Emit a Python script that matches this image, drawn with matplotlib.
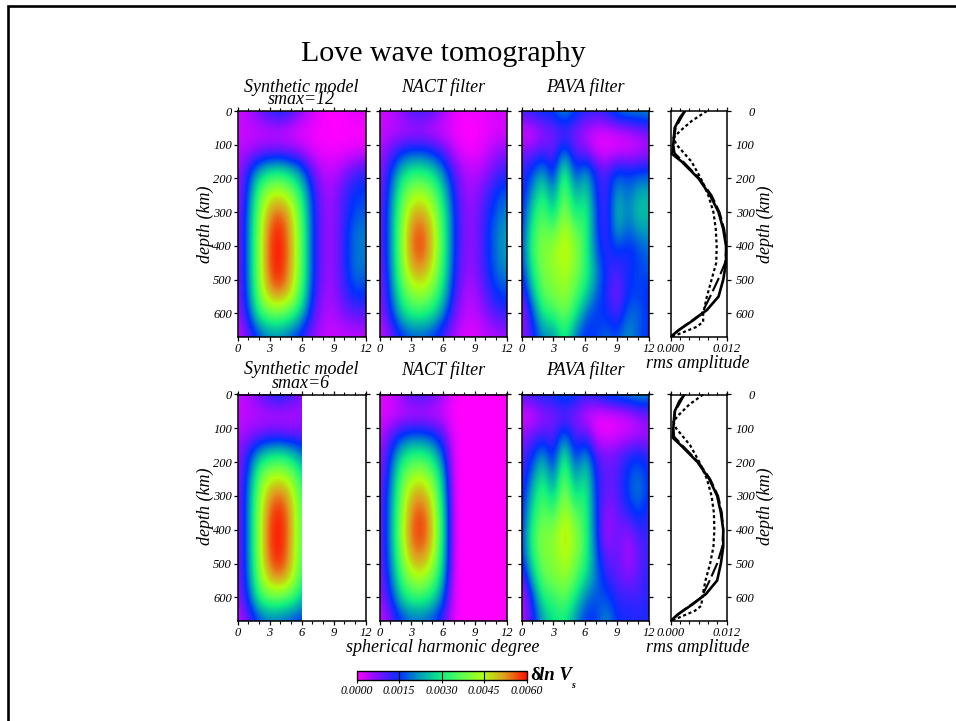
import numpy as np
import matplotlib
matplotlib.use('Agg')
import matplotlib.pyplot as plt
from matplotlib.colors import LinearSegmentedColormap, Normalize
from matplotlib.cm import ScalarMappable
from matplotlib.lines import Line2D
from matplotlib.patches import Rectangle
from matplotlib.ticker import MultipleLocator

plt.rcParams['font.family'] = ['Liberation Serif', 'DejaVu Serif']

W, H = 956, 721

# model grids: rows are depth (60 km steps), columns are degree 0-12, units 1e-4
grid_depths = [0, 60, 120, 180, 240, 300, 360, 420, 480, 540, 600, 660]

syn12 = [
    [3, 5, 9, 13, 15, 12, 7, 3, 1, 0, 1, 2, 2],
    [3, 3, 3, 3, 3, 2, 1, 1, 0, 0, 0, 0, 0],
    [4, 5, 7, 8, 8, 7, 5, 2, 1, 1, 1, 2, 2],
    [5, 14, 24, 29, 30, 26, 20, 9, 4, 4, 7, 11, 12],
    [5, 17, 36, 44, 45, 40, 29, 14, 6, 6, 11, 15, 16],
    [6, 19, 40, 53, 56, 49, 34, 15, 7, 6, 12, 17, 18],
    [6, 20, 42, 57, 60, 51, 36, 15, 7, 6, 13, 20, 20],
    [6, 20, 42, 58, 60, 52, 36, 15, 7, 6, 13, 20, 20],
    [6, 20, 42, 57, 60, 51, 36, 15, 7, 6, 13, 20, 19],
    [6, 19, 40, 52, 55, 48, 33, 14, 6, 6, 11, 16, 15],
    [5, 16, 32, 38, 38, 34, 25, 11, 5, 5, 8, 10, 10],
    [3, 9, 17, 21, 21, 18, 13, 7, 4, 3, 4, 4, 4],
]
nact12 = [
    [3, 4, 7, 11, 12, 10, 6, 2, 1, 1, 2, 3, 3],
    [3, 4, 4, 4, 4, 3, 2, 1, 0, 0, 1, 2, 2],
    [5, 9, 14, 16, 16, 14, 10, 4, 1, 1, 3, 6, 7],
    [6, 15, 26, 31, 31, 28, 20, 10, 5, 4, 6, 10, 12],
    [7, 18, 34, 42, 43, 38, 27, 13, 6, 6, 10, 15, 18],
    [7, 20, 38, 50, 52, 45, 31, 15, 7, 7, 12, 18, 21],
    [7, 20, 40, 55, 57, 49, 33, 15, 7, 7, 13, 20, 23],
    [7, 20, 40, 55, 57, 49, 33, 15, 7, 7, 13, 20, 23],
    [6, 19, 38, 50, 52, 45, 31, 14, 6, 7, 12, 19, 21],
    [6, 17, 33, 41, 43, 38, 27, 12, 5, 5, 10, 15, 17],
    [5, 14, 26, 32, 32, 29, 20, 9, 4, 4, 7, 11, 12],
    [3, 8, 15, 18, 18, 16, 11, 5, 2, 2, 4, 5, 6],
]
pava12 = [
    [12, 14, 16, 16, 24, 16, 14, 13, 14, 20, 22, 22, 23],
    [1, 2, 6, 8, 9, 8, 4, 2, 2, 3, 4, 6, 8],
    [8, 8, 11, 8, 20, 9, 8, 2, 1, 2, 2, 3, 5],
    [12, 16, 24, 10, 36, 13, 24, 13, 10, 17, 15, 16, 16],
    [12, 22, 32, 18, 41, 21, 30, 14, 10, 24, 18, 24, 24],
    [13, 28, 37, 25, 44, 28, 34, 16, 9, 27, 19, 27, 25],
    [14, 33, 40, 36, 47, 38, 34, 16, 10, 24, 17, 22, 22],
    [15, 34, 41, 42, 48, 42, 33, 18, 12, 15, 13, 16, 19],
    [13, 30, 40, 41, 45, 40, 33, 22, 13, 10, 14, 17, 17],
    [8, 24, 38, 39, 43, 37, 28, 19, 13, 7, 15, 16, 14],
    [4, 16, 31, 33, 39, 31, 19, 15, 15, 9, 19, 19, 14],
    [6, 12, 22, 21, 33, 20, 14, 16, 19, 16, 23, 17, 15],
]
syn6 = [
    [3, 5, 9, 13, 15, 12, 8],
    [3, 4, 4, 4, 4, 4, 5],
    [5, 6, 8, 9, 9, 8, 9],
    [6, 14, 24, 29, 30, 27, 20],
    [6, 17, 37, 44, 45, 41, 30],
    [6, 20, 41, 53, 56, 49, 34],
    [6, 20, 43, 57, 60, 52, 35],
    [6, 20, 43, 58, 60, 52, 35],
    [6, 20, 43, 57, 60, 51, 35],
    [6, 19, 40, 52, 55, 48, 33],
    [6, 16, 33, 38, 38, 35, 26],
    [3, 9, 17, 20, 19, 17, 15],
]
nact6 = [
    [2, 3, 7, 11, 12, 10, 6, 1, 0, 0, 0, 0, 0],
    [2, 2, 3, 3, 3, 3, 2, 0, 0, 0, 0, 0, 0],
    [4, 9, 15, 17, 17, 15, 10, 1, 0, 0, 0, 0, 0],
    [5, 15, 27, 32, 32, 28, 17, 1, 0, 0, 0, 0, 0],
    [6, 18, 35, 43, 44, 38, 23, 1, 0, 0, 0, 0, 0],
    [7, 20, 39, 51, 53, 45, 26, 1, 0, 0, 0, 0, 0],
    [7, 21, 41, 55, 58, 49, 28, 1, 0, 0, 0, 0, 0],
    [7, 21, 42, 56, 58, 50, 28, 1, 0, 0, 0, 0, 0],
    [7, 20, 39, 52, 54, 46, 27, 1, 0, 0, 0, 0, 0],
    [6, 18, 34, 43, 45, 38, 24, 1, 0, 0, 0, 0, 0],
    [5, 14, 27, 33, 33, 29, 18, 1, 0, 0, 0, 0, 0],
    [3, 8, 16, 19, 19, 17, 11, 1, 0, 0, 0, 0, 0],
]
pava6 = [
    [11, 13, 15, 15, 20, 16, 13, 15, 18, 20, 22, 24, 22],
    [1, 2, 6, 7, 8, 7, 3, 1, 1, 2, 3, 6, 8],
    [6, 9, 11, 9, 20, 9, 11, 2, 1, 2, 3, 4, 5],
    [10, 14, 24, 10, 34, 12, 24, 10, 8, 9, 13, 15, 12],
    [10, 20, 31, 16, 41, 19, 31, 13, 9, 10, 16, 20, 14],
    [12, 26, 36, 24, 44, 27, 34, 14, 8, 10, 16, 21, 14],
    [13, 30, 39, 34, 47, 37, 34, 15, 5, 9, 11, 16, 12],
    [14, 34, 41, 40, 49, 42, 34, 16, 4, 10, 5, 11, 12],
    [14, 31, 41, 40, 46, 41, 33, 18, 8, 10, 4, 9, 12],
    [7, 25, 38, 39, 43, 37, 28, 20, 12, 10, 7, 10, 13],
    [2, 15, 32, 33, 38, 30, 20, 17, 17, 12, 12, 11, 13],
    [4, 12, 24, 29, 31, 22, 15, 15, 23, 14, 14, 13, 14],
]

# rms profiles, upper row
rms_solid_depth = [0, 20, 50, 80, 100, 128, 150, 200, 250, 300, 350, 400, 450, 500, 550, 590, 620, 650, 670]
rms_solid_top = [.0031, .0020, .0009, .0007, .0006, .0004, .0024, .0060, .0085, .0103, .0113, .0119, .0119, .0113, .0103, .0078, .0049, .0017, 0]
rms_dash_depth = [0, 50, 100, 125, 150, 200, 250, 300, 350, 400, 450, 500, 550, 600, 640, 670]
rms_dash_top = [.0031, .0011, .0006, .0009, .0027, .0062, .0088, .0105, .0115, .0120, .0117, .0102, .0085, .0067, .0027, 0]
rms_dot_depth = [0, 30, 60, 80, 100, 150, 200, 250, 300, 350, 400, 450, 500, 550, 600, 625, 640, 660, 670]
rms_dot_top = [.0078, .0045, .0020, .0006, .0013, .0045, .0065, .0081, .0092, .0097, .0099, .0098, .0088, .0078, .0070, .0070, .0056, .0020, 0]

# rms profiles, lower row
rms_solid_low = [.0030, .0019, .0009, .0007, .0006, .0005, .0022, .0058, .0083, .0100, .0108, .0113, .0113, .0108, .0100, .0076, .0048, .0016, 0]
rms_dash_low = [.0030, .0010, .0006, .0008, .0025, .0060, .0085, .0102, .0110, .0113, .0111, .0100, .0084, .0066, .0026, 0]
rms_dot_low = [.0070, .0040, .0018, .0006, .0012, .0042, .0062, .0078, .0088, .0093, .0094, .0092, .0085, .0075, .0068, .0066, .0052, .0018, 0]

cbar_ticks = [0.0, 0.0015, 0.0030, 0.0045, 0.0060]
cbar_labels = ['0.0000', '0.0015', '0.0030', '0.0045', '0.0060']
degree_ticks = [0, 3, 6, 9, 12]
depth_ticks = [0, 100, 200, 300, 400, 500, 600]

cmap = LinearSegmentedColormap.from_list(
    'hue', ['#ff00ff', '#8010ff', '#0030ff', '#00a0b8', '#10f080',
            '#60ff50', '#b0ff10', '#e09a20', '#ff1000'], N=256)
norm = Normalize(0, 60)

fig = plt.figure(figsize=(W / 100, H / 100), dpi=100)
fig.patch.set_facecolor('white')


def px_axes(l, t, r, b):
    return fig.add_axes([l / W, 1 - b / H, (r - l) / W, (b - t) / H])


def txt(x, y, s, size, **kw):
    kw.setdefault('style', 'italic')
    kw.setdefault('ha', 'center')
    kw.setdefault('va', 'center')
    fig.text(x / W, 1 - y / H, s, fontsize=size, **kw)


def style_axes(ax, left_labels):
    ax.set_ylim(670, 0)
    ax.yaxis.set_ticks(depth_ticks)
    ax.tick_params(axis='both', which='major', direction='out', length=3, width=0.9,
                   top=True, right=True, labelsize=9, pad=1)
    ax.tick_params(axis='x', which='minor', direction='out', length=2, width=0.8, top=True)
    if not left_labels:
        ax.set_yticklabels([])
    else:
        for t in ax.get_yticklabels():
            t.set_style('italic')
    for s in ax.spines.values():
        s.set_linewidth(1.1)


def draw_map(ax, grid, clip_deg=None, left_labels=False):
    arr = np.array(grid, dtype=float)
    n = arr.shape[1]
    im = ax.imshow(arr, cmap=cmap, norm=norm, interpolation='bicubic', aspect='auto',
                   extent=[-0.5, n - 0.5, 690, -30], origin='upper')
    if clip_deg is not None:
        im.set_clip_path(Rectangle((0, 0), clip_deg, 670, transform=ax.transData))
    ax.set_xlim(0, 12)
    ax.set_xticks(degree_ticks)
    ax.xaxis.set_minor_locator(MultipleLocator(1))
    style_axes(ax, left_labels)
    for t in ax.get_xticklabels():
        t.set_style('italic')


def draw_rms(ax, solid, dash, dot):
    ax.plot(solid, rms_solid_depth, color='k', lw=1.9)
    ax.plot(dash, rms_dash_depth, color='k', lw=1.5, dashes=(7, 2))
    ax.plot(dot, rms_dot_depth, color='k', lw=1.6, dashes=(1.4, 1.2))
    ax.set_xlim(0, 0.012)
    ax.set_xticks([0, 0.012])
    ax.set_xticklabels(['0.000', '0.012'])
    ax.xaxis.set_minor_locator(MultipleLocator(0.002))
    style_axes(ax, False)
    ax.set_yticklabels([str(d) for d in depth_ticks])
    ax.yaxis.tick_right()
    ax.tick_params(axis='y', which='major', left=True, right=True, labelleft=False,
                   labelright=True, pad=17)
    for t in ax.get_yticklabels():
        t.set_style('italic')
        t.set_ha('right')
    for t in ax.get_xticklabels():
        t.set_style('italic')


rows = [(111, 337, syn12, nact12, pava12, rms_solid_top, rms_dash_top, rms_dot_top, None),
        (394.5, 621, syn6, nact6, pava6, rms_solid_low, rms_dash_low, rms_dot_low, 6)]
for top, bot, g1, g2, g3, r1, r2, r3, clip in rows:
    draw_map(px_axes(237.5, top, 365.5, bot), g1, clip_deg=clip, left_labels=True)
    draw_map(px_axes(379.5, top, 506.5, bot), g2)
    draw_map(px_axes(521.5, top, 648.5, bot), g3)
    draw_rms(px_axes(670.5, top, 726.5, bot), r1, r2, r3)

# titles
txt(443, 54, 'Love wave tomography', 21.6, style='normal')
for y in (87, 370):
    txt(301, y, 'Synthetic model', 13)
    txt(443, y, 'NACT filter', 13)
    txt(585, y, 'PAVA filter', 13)
txt(301, 100, 'smax=12', 13)
txt(301, 383, 'smax=6', 13)
for y in (224, 506):
    txt(205, y, 'depth (km)', 13, rotation=90)
    txt(765, y, 'depth (km)', 13, rotation=90)
txt(698, 363, 'rms amplitude', 13)
txt(698, 647, 'rms amplitude', 13)
txt(443, 647, 'spherical harmonic degree', 13)

# colour bar
cax = px_axes(356.5, 671, 526.5, 680)
cbar = fig.colorbar(ScalarMappable(norm=Normalize(0, 0.006), cmap=cmap), cax=cax, orientation='horizontal')
cbar.set_ticks(cbar_ticks)
cbar.set_ticklabels(cbar_labels)
cbar.ax.tick_params(length=2.5, width=0.8, labelsize=8.5, pad=1)
for t in cbar.ax.get_xticklabels():
    t.set_style('italic')
for v in cbar_ticks[1:-1]:
    cbar.ax.axvline(v, color='k', lw=0.8)
cbar.outline.set_linewidth(1.0)
txt(530, 675, 'δ', 14, style='normal', fontweight='bold', ha='left')
txt(539, 675, 'ln V', 13.5, fontweight='bold', ha='left')
txt(571, 686, 's', 7, fontweight='bold', ha='left')

# page frame, left and top only
fig.add_artist(Line2D([8.2 / W, 8.2 / W, 1], [0, 1 - 6 / H, 1 - 6 / H], color='k', lw=1.9,
                      transform=fig.transFigure, solid_joinstyle='miter'))

fig.savefig('out.png', dpi=100)
